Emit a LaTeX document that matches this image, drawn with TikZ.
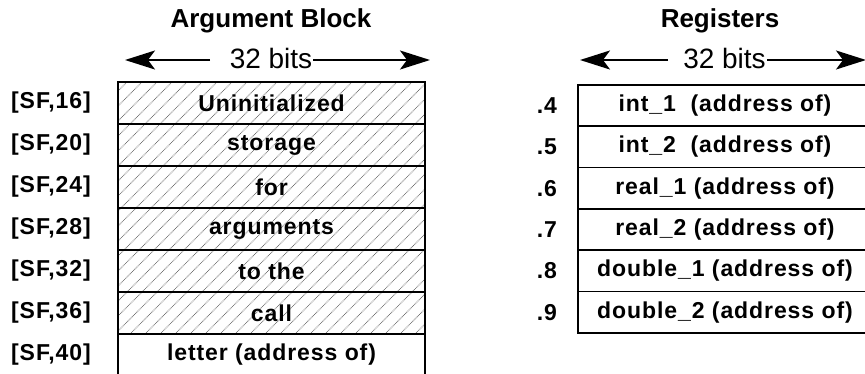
\documentclass[tikz,border=0pt]{standalone}
\usepackage{fontspec}
\setmainfont{Liberation Sans}
\newfontfamily\cellfont[LetterSpace=4]{Liberation Sans}
\newfontfamily\headfont{Liberation Sans}
\newfontfamily\bitsfont{Liberation Sans}
\usetikzlibrary{arrows.meta}

\tikzset{
  cell/.style={draw, line width=1.7pt, rectangle, inner sep=0pt,
    font=\cellfont\bfseries\fontsize{23}{26}\selectfont},
  argcell/.style={cell, minimum width=307pt, minimum height=42pt},
  regcell/.style={cell, minimum width=294pt, minimum height=41.3pt},
  addr/.style={inner sep=0pt, font=\cellfont\bfseries\fontsize{23}{26}\selectfont},
  heading/.style={inner sep=0pt, anchor=base, font=\headfont\bfseries\fontsize{26}{29}\selectfont},
  bits/.style={inner sep=0pt, anchor=base, font=\bitsfont\fontsize{28}{31}\selectfont},
  span/.style={line width=1.6pt, -{Stealth[length=30pt,width=19pt,inset=7pt]}},
  hatch/.style={gray!90!black, line width=0.9pt, dash pattern=on 0.8pt off 0.8pt}
}

\begin{document}
\begin{tikzpicture}[x=1pt,y=-1pt]
\useasboundingbox (0,0) rectangle (865,373);

% ---------- Argument block ----------
\node[heading] (argtitle) at (271,27.7) {Argument Block};
\node[bits] (lbits) at (271,68.3) {32 bits};
\coordinate (lbitsL) at (210,60);
\coordinate (lbitsR) at (313,60);
\coordinate (ltipL) at (125,60);
\coordinate (ltipR) at (430,60);
\draw[span] (lbitsL) -- (ltipL);
\draw[span] (lbitsR) -- (ltipR);

% diagonal stipple over the uninitialized part
\begin{scope}
  \clip (118,82) rectangle (425,334);
  \foreach \x in {-140,-125,...,430}
    \draw[hatch] (\x,334) -- ++(252,-252);
\end{scope}

\node[argcell] (a1) at (271.5,103) {Uninitialized};
\node[argcell] (a2) at (271.5,145) {storage};
\node[argcell] (a3) at (271.5,187) {for};
\node[argcell] (a4) at (271.5,229) {arguments};
\node[argcell] (a5) at (271.5,271) {to the};
\node[argcell] (a6) at (271.5,313) {call};
\node[argcell] (a7) at (271.5,355) {letter (address of)};

\node[addr] (sf1) at (51,103) {[SF,16]};
\node[addr] (sf2) at (51,145) {[SF,20]};
\node[addr] (sf3) at (51,187) {[SF,24]};
\node[addr] (sf4) at (51,229) {[SF,28]};
\node[addr] (sf5) at (51,271) {[SF,32]};
\node[addr] (sf6) at (51,313) {[SF,36]};
\node[addr] (sf7) at (51,355) {[SF,40]};

% ---------- Registers ----------
\node[heading] (regtitle) at (720,27.7) {Registers};
\node[bits] (rbits) at (724.5,68.3) {32 bits};
\coordinate (rbitsL) at (668,60);
\coordinate (rbitsR) at (767,60);
\coordinate (rtipL) at (580,60);
\coordinate (rtipR) at (866,60);
\draw[span] (rbitsL) -- (rtipL);
\draw[span] (rbitsR) -- (rtipR);

\node[regcell] (r4) at (725,105.65) {int\_1~~(address of)};
\node[regcell] (r5) at (725,146.95) {int\_2~~(address of)};
\node[regcell] (r6) at (725,188.25) {real\_1 (address of)};
\node[regcell] (r7) at (725,229.55) {real\_2 (address of)};
\node[regcell] (r8) at (725,270.85) {double\_1 (address of)};
\node[regcell] (r9) at (725,312.15) {double\_2 (address of)};

\node[addr] (g4) at (547,105.65) {.4};
\node[addr] (g5) at (547,146.95) {.5};
\node[addr] (g6) at (547,188.25) {.6};
\node[addr] (g7) at (547,229.55) {.7};
\node[addr] (g8) at (547,270.85) {.8};
\node[addr] (g9) at (547,312.15) {.9};
\end{tikzpicture}
\end{document}
